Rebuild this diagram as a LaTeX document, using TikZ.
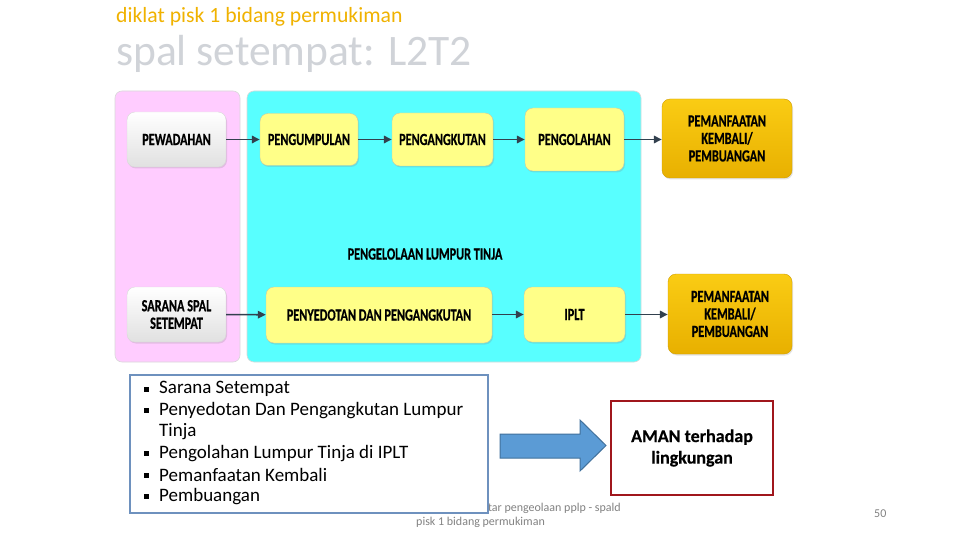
\documentclass[tikz,border=0pt]{standalone}
\usepackage{fontspec}
\setmainfont{Carlito}
\newfontfamily\boxfont[FakeStretch=0.72,FakeBold=0.6]{Carlito Bold}
\newfontfamily\amanfont[FakeBold=0.4]{Carlito Bold}
\usetikzlibrary{shadows,arrows.meta}
\definecolor{titleor}{RGB}{240,178,0}
\definecolor{subgray}{RGB}{208,211,216}
\definecolor{pinkbg}{RGB}{255,204,255}
\definecolor{cyanbg}{RGB}{88,255,255}
\definecolor{yelbox}{RGB}{255,255,136}
\definecolor{goldtop}{RGB}{250,204,20}
\definecolor{goldbot}{RGB}{232,176,0}
\definecolor{arrowc}{RGB}{50,64,78}
\definecolor{bulletborder}{RGB}{110,145,190}
\definecolor{blockfill}{RGB}{91,155,213}
\definecolor{blockline}{RGB}{65,113,156}
\definecolor{redbox}{RGB}{160,22,28}
\definecolor{footgray}{RGB}{130,130,130}
\tikzset{
  panel/.style={draw=black!15, rounded corners=7pt, line width=0.6pt},
  base/.style={rounded corners=8pt, align=center, font=\boxfont\fontsize{17}{17.5}\selectfont, inner sep=2pt,
     drop shadow={opacity=0.22, shadow xshift=1pt, shadow yshift=-1.5pt}},
  whitebox/.style={base, draw=black!15, top color=white, bottom color=black!12},
  yelbox/.style={base, draw=yellow!50!black!45, fill=yelbox},
  goldbox/.style={base, draw=goldbot!90!black, top color=goldtop, bottom color=goldbot},
  flow/.style={draw=arrowc, line width=1.6pt, -{Triangle[length=8pt,width=7.5pt]}},
  bul/.style={anchor=west, font=\fontsize{19}{21}\selectfont, inner sep=0pt},
  bsq/.style={fill=black, minimum size=5pt, inner sep=0pt},
  foot/.style={text=footgray, font=\fontsize{12}{14}\selectfont, inner sep=0pt},
}
\begin{document}
\begin{tikzpicture}[x=1pt,y=-1pt]
\useasboundingbox (0,0) rectangle (960,540);
\fill[white] (0,0) rectangle (960,540);
% titles
\node[anchor=west, text=titleor, font=\fontsize{21.7}{26}\selectfont, inner sep=0pt] (t1) at (116,17) {diklat pisk 1 bidang permukiman};
\node[anchor=west, text=subgray, font=\fontsize{43.5}{52}\selectfont, inner sep=0pt] (t2) at (116,54) {spal setempat: L2T2};
% panels
\draw[panel, fill=pinkbg] (115,91) rectangle (240,362);
\draw[panel, fill=cyanbg] (247,91) rectangle (641,362);
% top row
\node[whitebox, minimum width=99pt, minimum height=55pt] (pew) at (176.5,139.5) {PEWADAHAN};
\node[yelbox, minimum width=98pt, minimum height=52pt] (pgu) at (309,139.5) {PENGUMPULAN};
\node[yelbox, minimum width=101pt, minimum height=53pt] (pga) at (442.5,139.5) {PENGANGKUTAN};
\node[yelbox, minimum width=99pt, minimum height=63pt] (pgo) at (574.5,139.5) {PENGOLAHAN};
\node[goldbox, minimum width=130pt, minimum height=79pt] (pm1) at (727,138.5) {PEMANFAATAN\\KEMBALI/\\PEMBUANGAN};
% label
\node[font=\boxfont\fontsize{17}{17.5}\selectfont] (plt) at (425,254) {PENGELOLAAN LUMPUR TINJA};
% bottom row
\node[whitebox, minimum width=99pt, minimum height=55pt] (sar) at (176.5,314.5) {SARANA SPAL\\SETEMPAT};
\node[yelbox, minimum width=226pt, minimum height=56pt] (pny) at (379,315) {PENYEDOTAN DAN PENGANGKUTAN};
\node[yelbox, minimum width=101pt, minimum height=55pt] (ipl) at (574.5,314.5) {IPLT};
\node[goldbox, minimum width=124pt, minimum height=80pt] (pm2) at (730,314) {PEMANFAATAN\\KEMBALI/\\PEMBUANGAN};
% arrows
\draw[flow] (pew) -- (pgu);
\draw[flow] (pgu) -- (pga);
\draw[flow] (pga) -- (pgo);
\draw[flow] (pgo.east) -- (pm1.west |- pgo.east);
\draw[flow] (sar) -- (pny);
\draw[flow] (pny.east |- ipl.east) -- (ipl.west);
\draw[flow] (ipl.east) -- (pm2.west |- ipl.east);
% footer
\node[foot, anchor=east] (f1) at (621,508) {tar pengeolaan pplp - spald};
\node[foot, anchor=west] (f2) at (416,522) {pisk 1 bidang permukiman};
\node[foot, anchor=west] (pg) at (874,514) {50};
% bullet box
\draw[draw=bulletborder, fill=white, line width=1.6pt] (130,375) rectangle (488,513);
\node[bsq] (b1) at (146,389) {}; \node[bul] (l1) at (159,389) {Sarana Setempat};
\node[bsq] (b2) at (146,410.5) {}; \node[bul] (l2) at (159,410.5) {Penyedotan Dan Pengangkutan Lumpur};
\node[bul] (l2b) at (159,432) {Tinja};
\node[bsq] (b3) at (146,453.5) {}; \node[bul] (l3) at (159,453.5) {Pengolahan Lumpur Tinja di IPLT};
\node[bsq] (b4) at (146,475) {}; \node[bul] (l4) at (159,475) {Pemanfaatan Kembali};
\node[bsq] (b5) at (146,496.5) {}; \node[bul] (l5) at (159,496.5) {Pembuangan};
% block arrow
\draw[fill=blockfill, draw=blockline, line width=1pt] (500,434) -- (580,434) -- (580,420) -- (606,445.5) -- (580,471) -- (580,458) -- (500,458) -- cycle;
% red box
\node[draw=redbox, line width=1.6pt, minimum width=162pt, minimum height=94pt, align=center, font=\amanfont\fontsize{18}{21.5}\selectfont] (aman) at (692,448) {AMAN terhadap\\lingkungan};
\end{tikzpicture}
\end{document}
